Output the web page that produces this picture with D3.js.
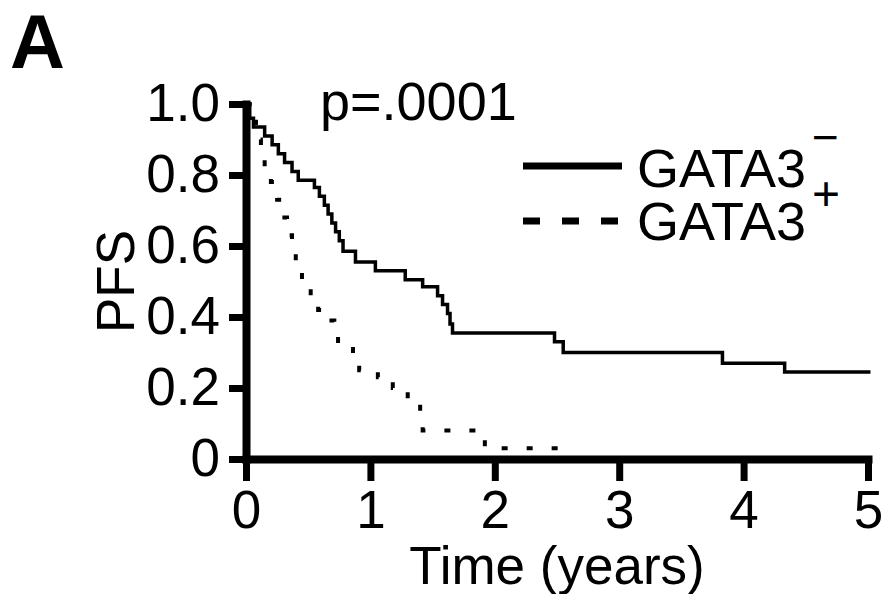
<!DOCTYPE html>
<html>
<head>
<meta charset="utf-8">
<script src="https://cdn.jsdelivr.net/npm/d3@7"></script>
<style>
  body { margin: 0; background: #fff; }
  text, tspan { font-family: "Liberation Sans", Arial, sans-serif; fill: #000; }
</style>
</head>
<body>
<div id="chart"></div>
<script>
// Kaplan-Meier steps: [time in years, PFS after the drop]
var gataNeg = [
  [0, 1.0], [0.03, 0.96], [0.06, 0.935], [0.15, 0.91], [0.21, 0.885], [0.26, 0.86],
  [0.31, 0.835], [0.37, 0.81], [0.42, 0.785], [0.55, 0.765], [0.59, 0.74], [0.63, 0.715],
  [0.66, 0.69], [0.69, 0.665], [0.72, 0.64], [0.75, 0.615], [0.78, 0.585], [0.88, 0.555],
  [1.04, 0.53], [1.28, 0.505], [1.42, 0.485], [1.54, 0.46], [1.58, 0.435], [1.62, 0.41],
  [1.64, 0.38], [1.66, 0.355], [2.48, 0.33], [2.55, 0.30], [3.83, 0.27], [4.33, 0.245],
  [5.02, 0.245]
];
var gataPos = [
  [0, 1.0], [0.03, 0.95], [0.08, 0.90], [0.12, 0.85], [0.15, 0.82], [0.20, 0.78],
  [0.25, 0.73], [0.29, 0.68], [0.33, 0.63], [0.37, 0.59], [0.40, 0.54], [0.45, 0.50],
  [0.52, 0.46], [0.58, 0.42], [0.66, 0.39], [0.71, 0.35], [0.74, 0.31], [0.86, 0.28],
  [0.91, 0.25], [1.06, 0.23], [1.18, 0.20], [1.30, 0.17], [1.40, 0.13], [1.42, 0.08],
  [1.92, 0.03], [2.55, 0.03]
];
var xTicks = [0, 1, 2, 3, 4, 5];
var yTicks = [0, 0.2, 0.4, 0.6, 0.8, 1.0];
var yTickLabels = ["0", "0.2", "0.4", "0.6", "0.8", "1.0"];
var legendNames = ["GATA3", "GATA3"];
var legendSup = ["\u2212", "+"];
var pText = "p=.0001";

var svgWidth = 892;
var svgHeight = 594;

var svg = d3.select("#chart")
  .append("svg")
  .attr("width", svgWidth)
  .attr("height", svgHeight);

var x = d3.scaleLinear().domain([0, 5]).range([246, 868]);
var y = d3.scaleLinear().domain([0, 1]).range([459, 104]);

// axes, thick black like the figure
var bottomAxis = d3.axisBottom(x)
  .tickValues(xTicks)
  .tickFormat(d3.format("d"))
  .tickSize(22)
  .tickSizeOuter(0)
  .tickPadding(9);

var leftAxis = d3.axisLeft(y)
  .tickValues(yTicks)
  .tickFormat(function(d, i) { return yTickLabels[i]; })
  .tickSize(17)
  .tickSizeOuter(0)
  .tickPadding(9);

var gx = svg.append("g")
  .attr("transform", "translate(0," + y(0) + ")")
  .call(bottomAxis);

var gy = svg.append("g")
  .attr("transform", "translate(" + x(0) + ",0)")
  .call(leftAxis);

[gx, gy].forEach(function(g) {
  g.select(".domain").attr("stroke", "#000").attr("stroke-width", 8).attr("stroke-linecap", "square");
  g.selectAll(".tick line").attr("stroke", "#000").attr("stroke-width", 7);
  g.selectAll(".tick text")
    .style("font-family", "'Liberation Sans', Arial, sans-serif")
    .style("font-size", "53px")
    .attr("fill", "#000");
});

// survival curves
var line = d3.line()
  .x(function(d) { return x(d[0]); })
  .y(function(d) { return y(d[1]); })
  .curve(d3.curveStepAfter);

svg.append("path")
  .datum(gataNeg)
  .attr("d", line)
  .attr("fill", "none")
  .attr("stroke", "#000")
  .attr("stroke-width", 3.5);

svg.append("path")
  .datum(gataPos)
  .attr("d", line)
  .attr("fill", "none")
  .attr("stroke", "#000")
  .attr("stroke-width", 4)
  .attr("stroke-dasharray", "6,19");

// labels
svg.append("text")
  .attr("x", 10)
  .attr("y", 68)
  .style("font-size", "76px")
  .style("font-weight", "bold")
  .text("A");

svg.append("text")
  .attr("x", 320)
  .attr("y", 120)
  .style("font-size", "54px")
  .text(pText);

svg.append("text")
  .attr("transform", "translate(134," + ((y(0) + y(1)) / 2) + ") rotate(-90)")
  .attr("text-anchor", "middle")
  .style("font-size", "53px")
  .text("PFS");

svg.append("text")
  .attr("x", (x(0) + x(5)) / 2)
  .attr("y", 584)
  .attr("text-anchor", "middle")
  .style("font-size", "53px")
  .text("Time (years)");

// legend
var legendY = [166, 221];
var legendText = [187, 240];
var legendDash = [null, "17,22"];
legendNames.forEach(function(name, i) {
  svg.append("line")
    .attr("x1", 523).attr("x2", 622)
    .attr("y1", legendY[i]).attr("y2", legendY[i])
    .attr("stroke", "#000")
    .attr("stroke-width", 7)
    .attr("stroke-dasharray", legendDash[i]);
  var t = svg.append("text")
    .attr("x", 637)
    .attr("y", legendText[i])
    .style("font-size", "54px")
    .text(name);
  t.append("tspan")
    .attr("dx", 6)
    .attr("dy", i === 0 ? -34 : -30)
    .attr("fill", "#000")
    .style("font-size", i === 0 ? "46px" : "48px")
    .text(legendSup[i]);
});
</script>
</body>
</html>
